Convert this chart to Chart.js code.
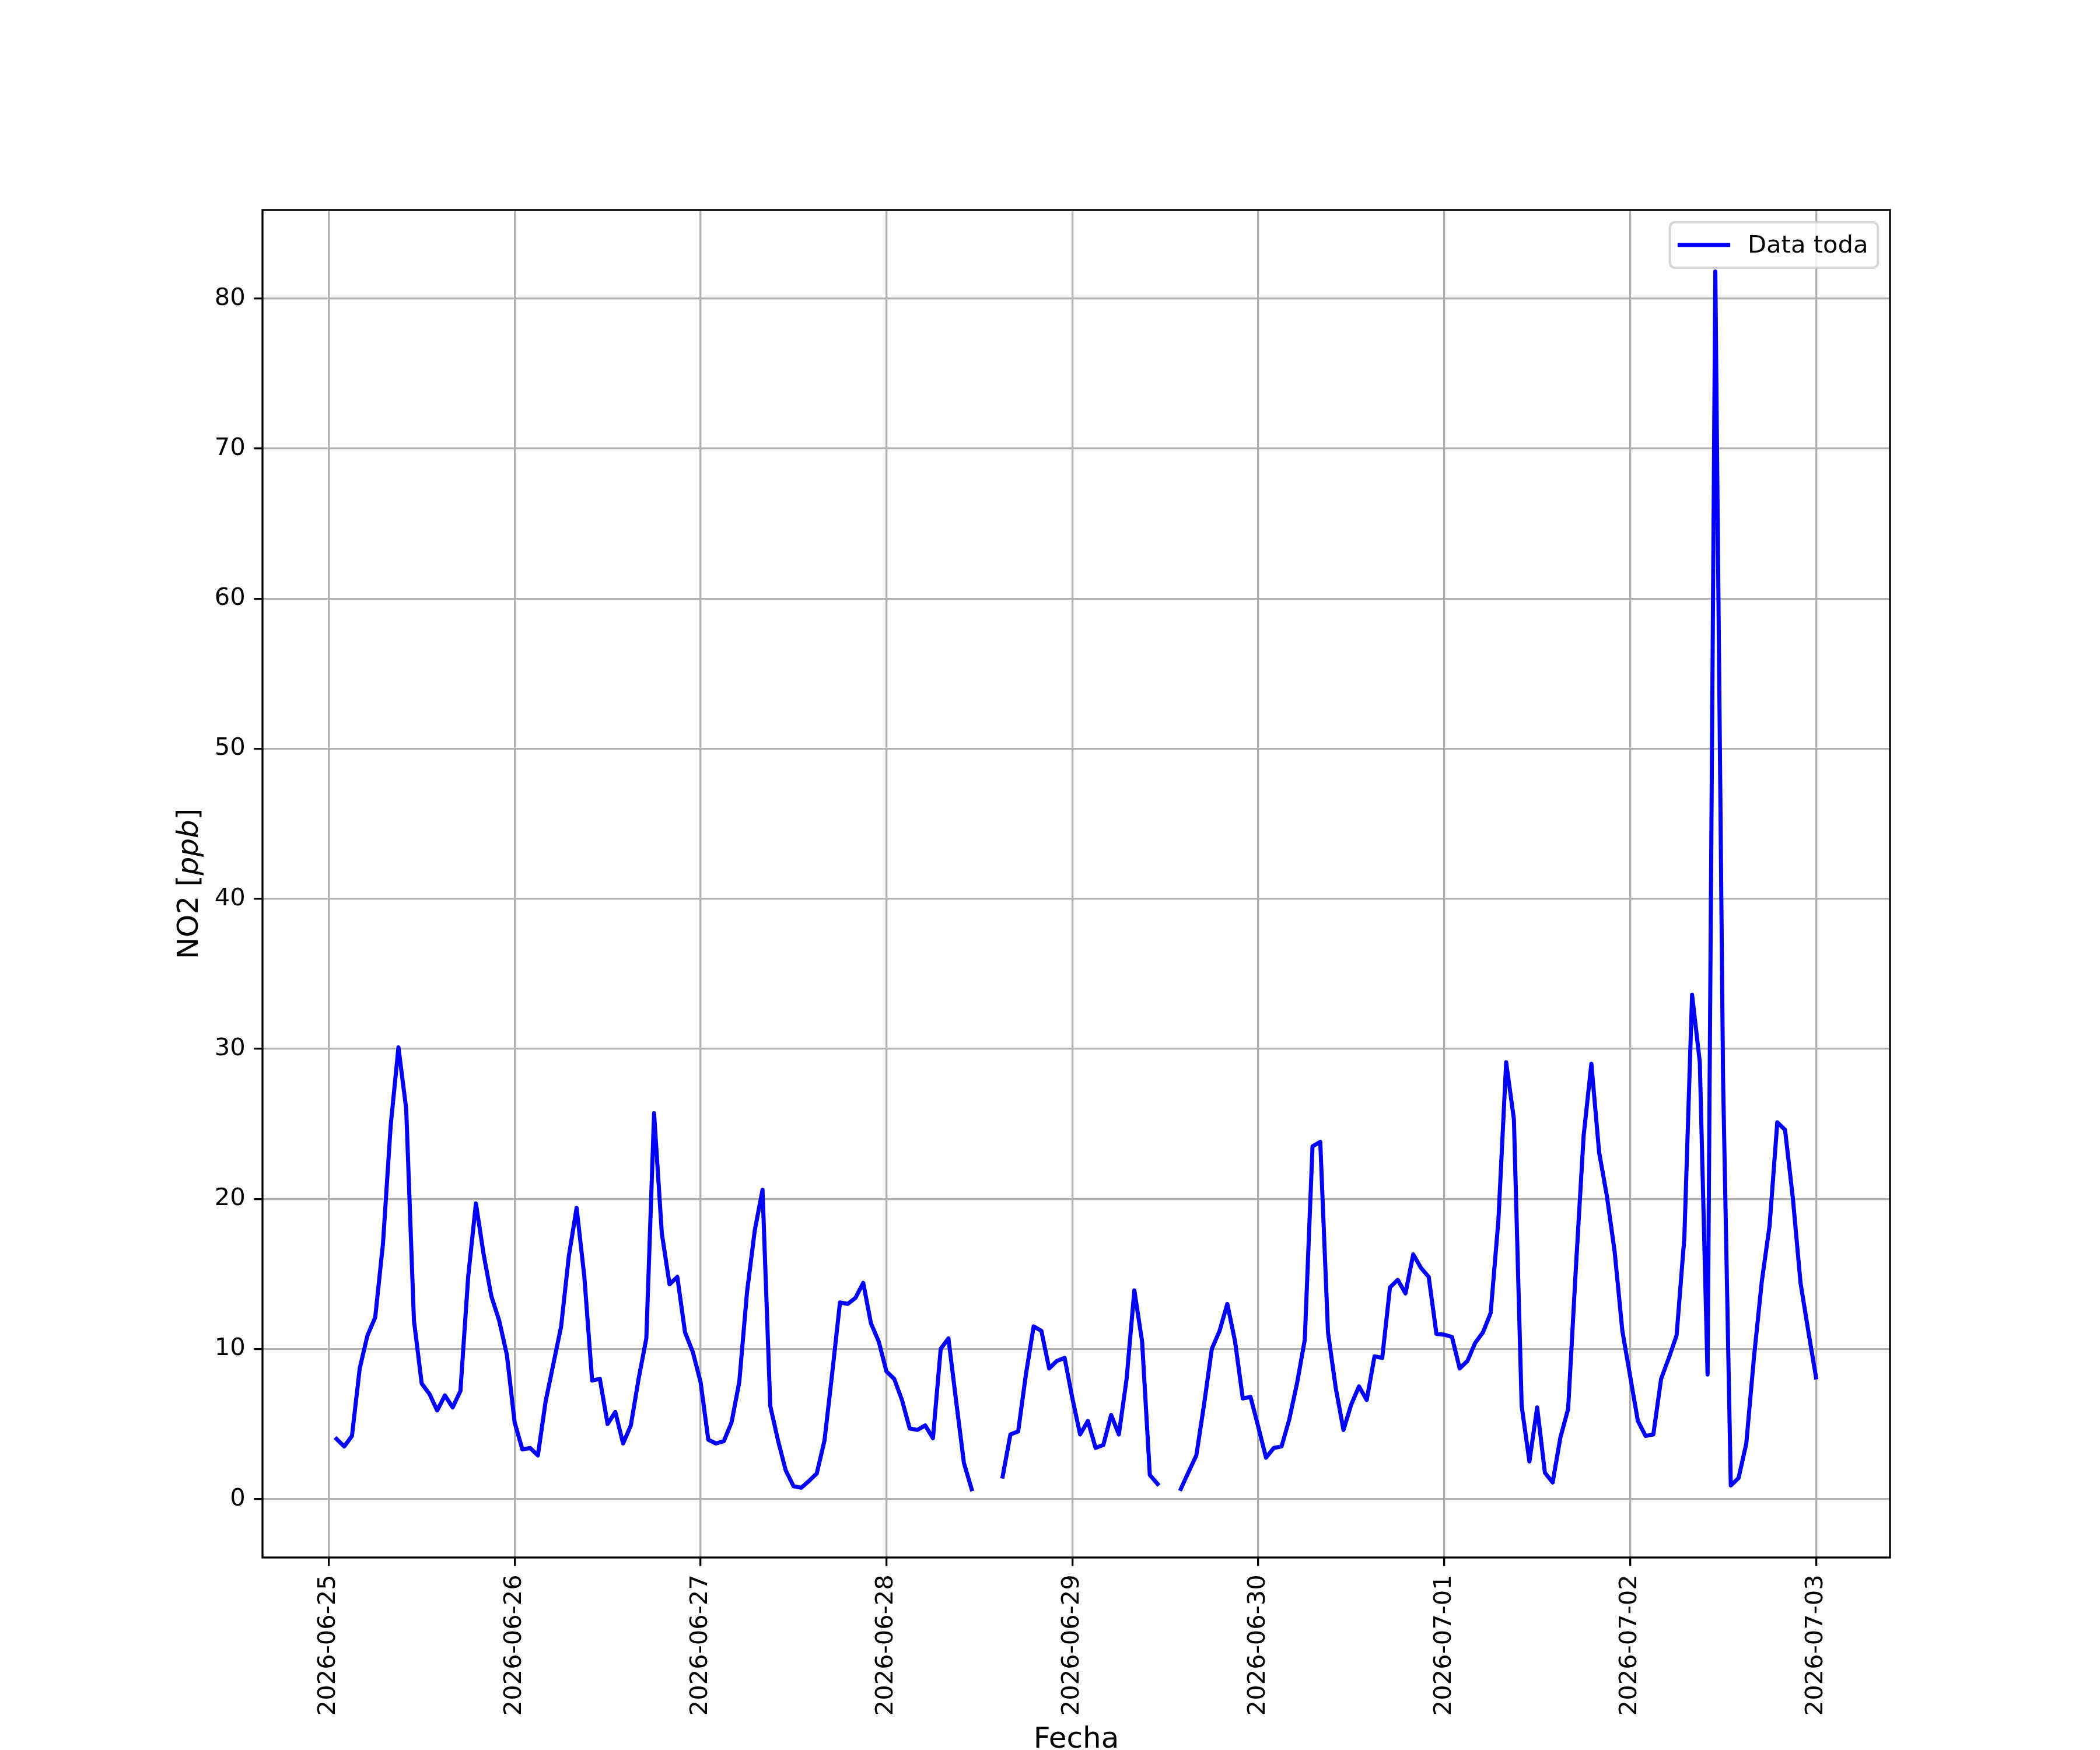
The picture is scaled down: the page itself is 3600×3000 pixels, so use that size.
<!DOCTYPE html>
<html>
<head>
<meta charset="utf-8">
<script src="https://cdn.jsdelivr.net/npm/chart.js@4.4.1/dist/chart.umd.min.js"></script>
<style>
html,body{margin:0;padding:0;background:#ffffff;}
canvas{display:block;}
</style>
</head>
<body>
<canvas id="c" width="3600" height="3000" style="width:3600px;height:3000px"></canvas>
<script>
// ---------------- data ----------------
const seriesLabel = 'Data toda';
const xTitle = 'Fecha';
const yTitleParts = [['NO2 [', false], ['ppb', true], [']', false]];
const tickLabels = ['2026-06-25','2026-06-26','2026-06-27','2026-06-28','2026-06-29','2026-06-30','2026-07-01','2026-07-02','2026-07-03'];
const yTicks = [0, 10, 20, 30, 40, 50, 60, 70, 80];
const yRange = [-3.9, 85.9];

// hourly NO2 (ppb), 01:00 .. 24:00 of each day
const d0625 = [4.0,3.5,4.2,8.7,10.9,12.1,17.0,24.9,30.1,26.0,11.9,7.7,7.0,5.9,6.9,6.1,7.2,14.8,19.7,16.3,13.5,11.9,9.6,5.1];
const d0626 = [3.3,3.4,2.9,6.5,9.0,11.5,16.2,19.4,14.8,7.9,8.0,5.0,5.8,3.7,4.9,8.0,10.7,25.7,17.7,14.3,14.8,11.1,9.8,7.8];
const d0627 = [3.95,3.7,3.85,5.1,7.8,13.8,17.9,20.6,6.2,3.9,1.9,0.85,0.75,1.2,1.7,3.9,8.4,13.1,13.0,13.4,14.4,11.7,10.5,8.5];
const d0628 = [8.0,6.6,4.7,4.6,4.9,4.05,10.0,10.7,6.5,2.4,0.65,null,null,null,1.5,4.3,4.5,8.3,11.5,11.2,8.7,9.2,9.4,6.7];
const d0629 = [4.3,5.2,3.4,3.6,5.6,4.3,8.0,13.9,10.5,1.6,1.0,null,null,0.67,1.8,2.9,6.3,10.0,11.2,13.0,10.5,6.7,6.8,4.8];
const d0630 = [2.75,3.4,3.5,5.3,7.7,10.6,23.5,23.8,11.1,7.4,4.6,6.3,7.5,6.6,9.5,9.4,14.1,14.6,13.7,16.3,15.4,14.8,11.0,10.95];
const d0701 = [10.8,8.7,9.2,10.4,11.1,12.4,18.6,29.1,25.3,6.2,2.5,6.1,1.75,1.1,4.1,6.0,15.4,24.2,29.0,23.1,20.2,16.5,11.2,8.2];
const d0702 = [5.2,4.2,4.3,8.0,9.4,10.9,17.4,33.6,29.1,8.3,81.8,28.0,0.9,1.4,3.7,9.5,14.5,18.2,25.1,24.6,20.1,14.4,11.2,8.1];

const no2 = [].concat(d0625, d0626, d0627, d0628, d0629, d0630, d0701, d0702);
// x = hours since 2026-06-25 00:00
const points = no2.map((v, i) => ({ x: i + 1, y: v }));

// matplotlib-like 5% x margins
const xs = points.map(p => p.x);
const xMin0 = Math.min(...xs), xMax0 = Math.max(...xs);
const xPad = (xMax0 - xMin0) * 0.05;

// ---------------- style ----------------
const DPI = 300 / 72;
const FONT = '"DejaVu Sans", "Liberation Sans", sans-serif';
const tickFont = 10 * DPI;
const labelFont = 12 * DPI;
const lineW = 7;

const deco = {
  id: 'deco',
  beforeDraw(chart) {
    const c = chart.ctx;
    c.save();
    c.fillStyle = '#ffffff';
    c.fillRect(0, 0, chart.width, chart.height);
    c.restore();
  },
  afterDatasetsDraw(chart) {
    const c = chart.ctx, a = chart.chartArea;
    c.save();
    c.strokeStyle = '#000000';
    c.lineWidth = 0.8 * DPI;
    c.strokeRect(a.left, a.top, a.right - a.left, a.bottom - a.top);
    c.restore();
  },
  afterDraw(chart) {
    const c = chart.ctx, a = chart.chartArea;
    // x title
    c.save();
    c.fillStyle = '#000000';
    c.font = labelFont + 'px ' + FONT;
    c.textAlign = 'center';
    c.textBaseline = 'alphabetic';
    c.fillText(xTitle, (a.left + a.right) / 2, 2996);
    c.restore();
    // y title (mixed italic)
    c.save();
    c.fillStyle = '#000000';
    c.translate(339, (a.top + a.bottom) / 2);
    c.rotate(-Math.PI / 2);
    c.textAlign = 'left';
    c.textBaseline = 'alphabetic';
    let total = 0;
    const widths = yTitleParts.map(([t, it]) => {
      c.font = (it ? 'italic ' : '') + labelFont + 'px ' + FONT;
      const w = c.measureText(t).width;
      total += w;
      return w;
    });
    let x = -total / 2;
    yTitleParts.forEach(([t, it], i) => {
      c.font = (it ? 'italic ' : '') + labelFont + 'px ' + FONT;
      c.fillText(t, x, 0);
      x += widths[i];
    });
    c.restore();
    // legend (upper right)
    const ds = chart.data.datasets[0];
    c.save();
    c.font = tickFont + 'px ' + FONT;
    const tw = c.measureText(ds.label).width;
    const pad = 0.4 * tickFont, hl = 2.0 * tickFont, htp = 0.8 * tickFont;
    const bw = pad + hl + htp + tw + pad;
    const bh = 78;
    const bx = a.right - 0.5 * tickFont - bw;
    const by = a.top + 21;
    c.beginPath();
    c.roundRect(bx, by, bw, bh, 0.2 * tickFont);
    c.fillStyle = 'rgba(255,255,255,0.8)';
    c.fill();
    c.lineWidth = 1.0 * DPI;
    c.strokeStyle = 'rgba(204,204,204,0.8)';
    c.stroke();
    const cy = by + bh / 2;
    c.beginPath();
    c.moveTo(bx + pad, cy);
    c.lineTo(bx + pad + hl, cy);
    c.strokeStyle = ds.borderColor;
    c.lineWidth = ds.borderWidth;
    c.lineCap = 'square';
    c.stroke();
    c.fillStyle = '#000000';
    c.textAlign = 'left';
    c.textBaseline = 'middle';
    c.fillText(ds.label, bx + pad + hl + htp, cy + 2);
    c.restore();
  }
};

new Chart(document.getElementById('c'), {
  type: 'line',
  data: {
    datasets: [{
      label: seriesLabel,
      data: points,
      borderColor: '#0000ff',
      backgroundColor: '#0000ff',
      borderWidth: lineW,
      pointRadius: 0,
      pointHoverRadius: 0,
      tension: 0,
      spanGaps: false,
      fill: false,
      borderJoinStyle: 'round',
      borderCapStyle: 'square'
    }]
  },
  options: {
    responsive: false,
    devicePixelRatio: 1,
    animation: false,
    events: [],
    layout: { padding: { left: 0, right: 360, top: 360, bottom: 0 } },
    plugins: {
      legend: { display: false },
      title: { display: false },
      tooltip: { enabled: false }
    },
    scales: {
      x: {
        type: 'linear',
        position: 'bottom',
        min: xMin0 - xPad,
        max: xMax0 + xPad,
        afterBuildTicks: s => { s.ticks = tickLabels.map((_, i) => ({ value: i * 24 })); },
        afterFit: s => { s.height = 330; },
        border: { display: false },
        grid: {
          color: '#b0b0b0',
          lineWidth: 0.8 * DPI,
          drawTicks: true,
          tickLength: 3.5 * DPI,
          tickColor: '#000000',
          tickWidth: 0.8 * DPI
        },
        ticks: {
          autoSkip: false,
          minRotation: 90,
          maxRotation: 90,
          padding: 3.5 * DPI,
          color: '#000000',
          font: { family: FONT, size: tickFont },
          callback: (v, i) => tickLabels[i]
        },
        title: { display: false }
      },
      y: {
        type: 'linear',
        position: 'left',
        min: yRange[0],
        max: yRange[1],
        afterBuildTicks: s => { s.ticks = yTicks.map(v => ({ value: v })); },
        afterFit: s => { s.width = 450; },
        border: { display: false },
        grid: {
          color: '#b0b0b0',
          lineWidth: 0.8 * DPI,
          drawTicks: true,
          tickLength: 3.5 * DPI,
          tickColor: '#000000',
          tickWidth: 0.8 * DPI
        },
        ticks: {
          padding: 3.5 * DPI,
          color: '#000000',
          font: { family: FONT, size: tickFont },
          callback: v => String(v)
        },
        title: { display: false }
      }
    }
  },
  plugins: [deco]
});
</script>
</body>
</html>
